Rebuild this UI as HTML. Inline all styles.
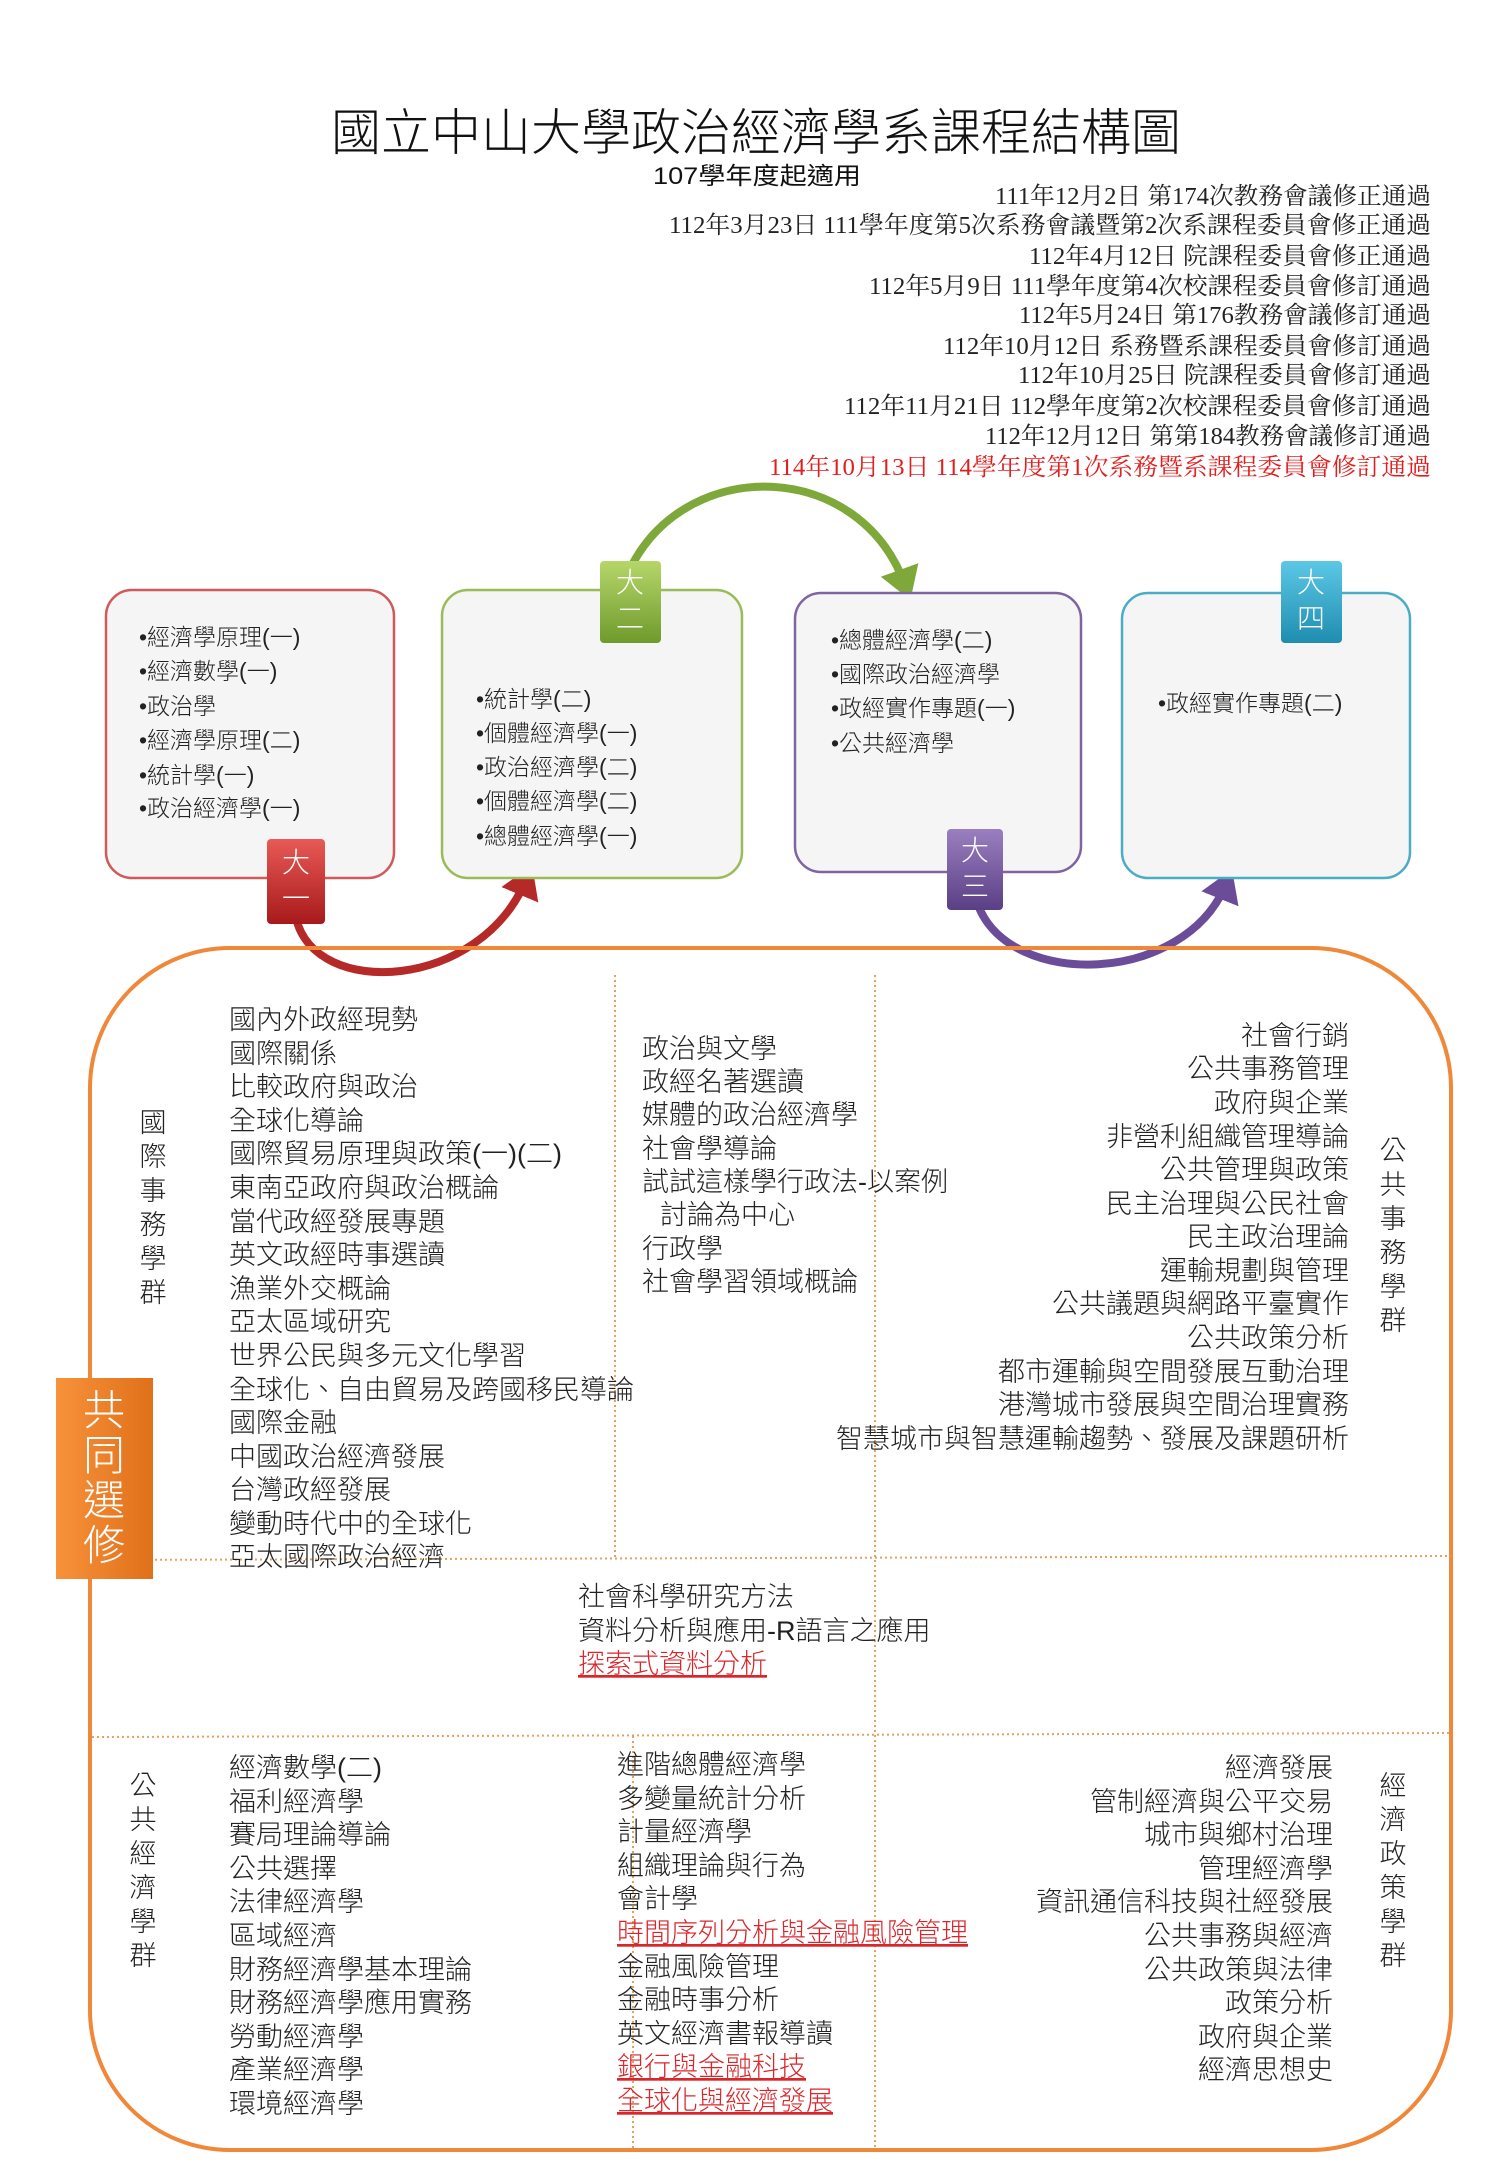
<!DOCTYPE html>
<html><head><meta charset="utf-8"><style>
html,body{margin:0;padding:0;background:#fff;}
svg{display:block;}
.t{font-family:"Liberation Serif","Noto Serif CJK SC",serif;font-size:24px;fill:#222;}
.s{font-family:"Liberation Sans","Noto Sans CJK TC",sans-serif;font-size:27px;fill:#222;font-weight:300;}
.b{font-family:"Liberation Sans","Noto Sans CJK TC",sans-serif;font-size:23px;fill:#222;font-weight:300;}
.r{fill:#d9262b;text-decoration:underline;}
.tab{font-family:"Liberation Sans","Noto Sans CJK TC",sans-serif;font-size:28px;fill:#fff;font-weight:300;}
</style></head><body>
<svg width="1500" height="2167" viewBox="0 0 1500 2167" xmlns="http://www.w3.org/2000/svg">
<defs>
<linearGradient id="gr" x1="0" y1="0" x2="0" y2="1"><stop offset="0" stop-color="#e85a55"/><stop offset="1" stop-color="#a8191b"/></linearGradient>
<linearGradient id="gg" x1="0" y1="0" x2="0" y2="1"><stop offset="0" stop-color="#b6d66a"/><stop offset="1" stop-color="#6f9a2c"/></linearGradient>
<linearGradient id="gp" x1="0" y1="0" x2="0" y2="1"><stop offset="0" stop-color="#9a7fc0"/><stop offset="1" stop-color="#5b3f85"/></linearGradient>
<linearGradient id="gt" x1="0" y1="0" x2="0" y2="1"><stop offset="0" stop-color="#5cc8e6"/><stop offset="1" stop-color="#1f8db0"/></linearGradient>
<linearGradient id="go" x1="0" y1="0" x2="1" y2="0"><stop offset="0" stop-color="#f7923a"/><stop offset="1" stop-color="#e0701a"/></linearGradient>
<marker id="ar" markerWidth="5" markerHeight="5" refX="2" refY="2.5" orient="auto" markerUnits="strokeWidth"><path d="M0,0 L4,2.5 L0,5 z" fill="#b52a28"/></marker>
<marker id="ag" markerWidth="5" markerHeight="5" refX="2" refY="2.5" orient="auto" markerUnits="strokeWidth"><path d="M0,0 L4,2.5 L0,5 z" fill="#7ea83a"/></marker>
<marker id="ap" markerWidth="5" markerHeight="5" refX="2" refY="2.5" orient="auto" markerUnits="strokeWidth"><path d="M0,0 L4,2.5 L0,5 z" fill="#6a4c98"/></marker>
</defs>

<text x="331" y="150" font-family="Liberation Sans, Noto Sans CJK TC, sans-serif" font-size="50" font-weight="300" fill="#111" textLength="850" lengthAdjust="spacingAndGlyphs">國立中山大學政治經濟學系課程結構圖</text>
<text x="653" y="184" font-family="Liberation Sans, Noto Sans CJK TC, sans-serif" font-size="24" fill="#111" textLength="208" lengthAdjust="spacingAndGlyphs">107學年度起適用</text>

<g class="t">
<text x="995" y="204" textLength="436" lengthAdjust="spacingAndGlyphs">111年12月2日 第174次教務會議修正通過</text>
<text x="669" y="233" textLength="762" lengthAdjust="spacingAndGlyphs">112年3月23日 111學年度第5次系務會議暨第2次系課程委員會修正通過</text>
<text x="1029" y="264" textLength="402" lengthAdjust="spacingAndGlyphs">112年4月12日 院課程委員會修正通過</text>
<text x="869" y="294" textLength="562" lengthAdjust="spacingAndGlyphs">112年5月9日 111學年度第4次校課程委員會修訂通過</text>
<text x="1019" y="323" textLength="412" lengthAdjust="spacingAndGlyphs">112年5月24日 第176教務會議修訂通過</text>
<text x="943" y="354" textLength="488" lengthAdjust="spacingAndGlyphs">112年10月12日 系務暨系課程委員會修訂通過</text>
<text x="1018" y="383" textLength="413" lengthAdjust="spacingAndGlyphs">112年10月25日 院課程委員會修訂通過</text>
<text x="844" y="414" textLength="587" lengthAdjust="spacingAndGlyphs">112年11月21日 112學年度第2次校課程委員會修訂通過</text>
<text x="985" y="444" textLength="446" lengthAdjust="spacingAndGlyphs">112年12月12日 第第184教務會議修訂通過</text>
<text x="769" y="475" textLength="662" lengthAdjust="spacingAndGlyphs" fill="#e02020">114年10月13日 114學年度第1次系務暨系課程委員會修訂通過</text>
</g>

<!-- arcs -->
<path d="M296 918 C 315 1000, 480 990, 526 880" fill="none" stroke="#b52a28" stroke-width="8" marker-end="url(#ar)"/>
<path d="M632 565 C 690 455, 860 460, 905 585" fill="none" stroke="#7ea83a" stroke-width="8" marker-end="url(#ag)"/>
<path d="M978 905 C 1010 990, 1185 985, 1226 884" fill="none" stroke="#6a4c98" stroke-width="8" marker-end="url(#ap)"/>

<!-- boxes -->
<rect x="106" y="590" width="288" height="288" rx="26" fill="#f5f5f5" stroke="#d05a5a" stroke-width="2.5"/>
<rect x="442" y="590" width="300" height="288" rx="26" fill="#f5f5f5" stroke="#9bbb59" stroke-width="2.5"/>
<rect x="795" y="593" width="286" height="279" rx="26" fill="#f5f5f5" stroke="#8064a2" stroke-width="2.5"/>
<rect x="1122" y="593" width="288" height="285" rx="26" fill="#f5f5f5" stroke="#4bacc6" stroke-width="2.5"/>

<g class="b">
<text x="139" y="645">•經濟學原理(一)</text>
<text x="139" y="679">•經濟數學(一)</text>
<text x="139" y="714">•政治學</text>
<text x="139" y="748">•經濟學原理(二)</text>
<text x="139" y="783">•統計學(一)</text>
<text x="139" y="816">•政治經濟學(一)</text>
<text x="476" y="707">•統計學(二)</text>
<text x="476" y="741">•個體經濟學(一)</text>
<text x="476" y="775">•政治經濟學(二)</text>
<text x="476" y="809">•個體經濟學(二)</text>
<text x="476" y="844">•總體經濟學(一)</text>
<text x="831" y="648">•總體經濟學(二)</text>
<text x="831" y="682">•國際政治經濟學</text>
<text x="831" y="716">•政經實作專題(一)</text>
<text x="831" y="751">•公共經濟學</text>
<text x="1158" y="711">•政經實作專題(二)</text>
</g>

<!-- tabs -->
<rect x="267" y="839" width="58" height="85" rx="4" fill="url(#gr)"/>
<text class="tab" x="296" y="872" text-anchor="middle">大</text><text class="tab" x="296" y="908" text-anchor="middle">一</text>
<rect x="600" y="561" width="61" height="82" rx="4" fill="url(#gg)"/>
<text class="tab" x="630" y="592" text-anchor="middle">大</text><text class="tab" x="630" y="628" text-anchor="middle">二</text>
<rect x="947" y="829" width="56" height="81" rx="4" fill="url(#gp)"/>
<text class="tab" x="975" y="860" text-anchor="middle">大</text><text class="tab" x="975" y="896" text-anchor="middle">三</text>
<rect x="1281" y="561" width="61" height="82" rx="4" fill="url(#gt)"/>
<text class="tab" x="1311" y="592" text-anchor="middle">大</text><text class="tab" x="1311" y="628" text-anchor="middle">四</text>

<!-- big orange region -->
<rect x="90" y="948" width="1361" height="1202" rx="140" fill="none" stroke="#f0883a" stroke-width="4"/>
<g stroke="#e8a060" stroke-width="2" stroke-dasharray="2,3" fill="none">
<line x1="615" y1="975" x2="615" y2="1558"/>
<line x1="633" y1="1736" x2="633" y2="2150"/>
<line x1="875" y1="975" x2="875" y2="2150"/>
<line x1="90" y1="1560" x2="1451" y2="1556"/>
<line x1="92" y1="1737" x2="1451" y2="1733"/>
</g>

<rect x="56" y="1378" width="97" height="201" fill="url(#go)"/>
<g font-family="Liberation Sans, Noto Sans CJK TC, sans-serif" font-size="42" fill="#fff" font-weight="300" text-anchor="middle">
<text x="104" y="1425">共</text><text x="104" y="1470">同</text><text x="104" y="1515">選</text><text x="104" y="1560">修</text>
</g>

<g class="s" text-anchor="middle">
<text x="153" y="1132">國</text><text x="153" y="1166">際</text><text x="153" y="1200">事</text><text x="153" y="1234">務</text><text x="153" y="1268">學</text><text x="153" y="1302">群</text>
<text x="1393" y="1160">公</text><text x="1393" y="1194">共</text><text x="1393" y="1228">事</text><text x="1393" y="1262">務</text><text x="1393" y="1296">學</text><text x="1393" y="1330">群</text>
<text x="143" y="1795">公</text><text x="143" y="1829">共</text><text x="143" y="1863">經</text><text x="143" y="1897">濟</text><text x="143" y="1931">學</text><text x="143" y="1965">群</text>
<text x="1393" y="1795">經</text><text x="1393" y="1829">濟</text><text x="1393" y="1863">政</text><text x="1393" y="1897">策</text><text x="1393" y="1931">學</text><text x="1393" y="1965">群</text>
</g>

<g class="s">
<text x="229" y="1029">國內外政經現勢</text>
<text x="229" y="1063">國際關係</text>
<text x="229" y="1096">比較政府與政治</text>
<text x="229" y="1130">全球化導論</text>
<text x="229" y="1163">國際貿易原理與政策(一)(二)</text>
<text x="229" y="1197">東南亞政府與政治概論</text>
<text x="229" y="1231">當代政經發展專題</text>
<text x="229" y="1264">英文政經時事選讀</text>
<text x="229" y="1298">漁業外交概論</text>
<text x="229" y="1331">亞太區域研究</text>
<text x="229" y="1365">世界公民與多元文化學習</text>
<text x="229" y="1399">全球化、自由貿易及跨國移民導論</text>
<text x="229" y="1432">國際金融</text>
<text x="229" y="1466">中國政治經濟發展</text>
<text x="229" y="1499">台灣政經發展</text>
<text x="229" y="1533">變動時代中的全球化</text>
<text x="229" y="1566">亞太國際政治經濟</text>

<text x="642" y="1058">政治與文學</text>
<text x="642" y="1091">政經名著選讀</text>
<text x="642" y="1124">媒體的政治經濟學</text>
<text x="642" y="1158">社會學導論</text>
<text x="642" y="1191">試試這樣學行政法-以案例</text>
<text x="660" y="1224">討論為中心</text>
<text x="642" y="1258">行政學</text>
<text x="642" y="1291">社會學習領域概論</text>

<text x="578" y="1606">社會科學研究方法</text>
<text x="578" y="1640">資料分析與應用-R語言之應用</text>
<text x="578" y="1673" class="s r">探索式資料分析</text>

<text x="229" y="1777">經濟數學(二)</text>
<text x="229" y="1811">福利經濟學</text>
<text x="229" y="1844">賽局理論導論</text>
<text x="229" y="1878">公共選擇</text>
<text x="229" y="1911">法律經濟學</text>
<text x="229" y="1945">區域經濟</text>
<text x="229" y="1979">財務經濟學基本理論</text>
<text x="229" y="2012">財務經濟學應用實務</text>
<text x="229" y="2046">勞動經濟學</text>
<text x="229" y="2079">產業經濟學</text>
<text x="229" y="2113">環境經濟學</text>

<text x="617" y="1774">進階總體經濟學</text>
<text x="617" y="1808">多變量統計分析</text>
<text x="617" y="1841">計量經濟學</text>
<text x="617" y="1875">組織理論與行為</text>
<text x="617" y="1908">會計學</text>
<text x="617" y="1942" class="s r">時間序列分析與金融風險管理</text>
<text x="617" y="1976">金融風險管理</text>
<text x="617" y="2009">金融時事分析</text>
<text x="617" y="2043">英文經濟書報導讀</text>
<text x="617" y="2076" class="s r">銀行與金融科技</text>
<text x="617" y="2110" class="s r">全球化與經濟發展</text>
</g>

<g class="s" text-anchor="end">
<text x="1349" y="1045">社會行銷</text>
<text x="1349" y="1078">公共事務管理</text>
<text x="1349" y="1112">政府與企業</text>
<text x="1349" y="1146">非營利組織管理導論</text>
<text x="1349" y="1179">公共管理與政策</text>
<text x="1349" y="1213">民主治理與公民社會</text>
<text x="1349" y="1246">民主政治理論</text>
<text x="1349" y="1280">運輸規劃與管理</text>
<text x="1349" y="1313">公共議題與網路平臺實作</text>
<text x="1349" y="1347">公共政策分析</text>
<text x="1349" y="1381">都市運輸與空間發展互動治理</text>
<text x="1349" y="1414">港灣城市發展與空間治理實務</text>
<text x="1349" y="1448">智慧城市與智慧運輸趨勢、發展及課題研析</text>

<text x="1333" y="1777">經濟發展</text>
<text x="1333" y="1811">管制經濟與公平交易</text>
<text x="1333" y="1844">城市與鄉村治理</text>
<text x="1333" y="1878">管理經濟學</text>
<text x="1333" y="1911">資訊通信科技與社經發展</text>
<text x="1333" y="1945">公共事務與經濟</text>
<text x="1333" y="1979">公共政策與法律</text>
<text x="1333" y="2012">政策分析</text>
<text x="1333" y="2046">政府與企業</text>
<text x="1333" y="2079">經濟思想史</text>
</g>
</svg>
</body></html>
